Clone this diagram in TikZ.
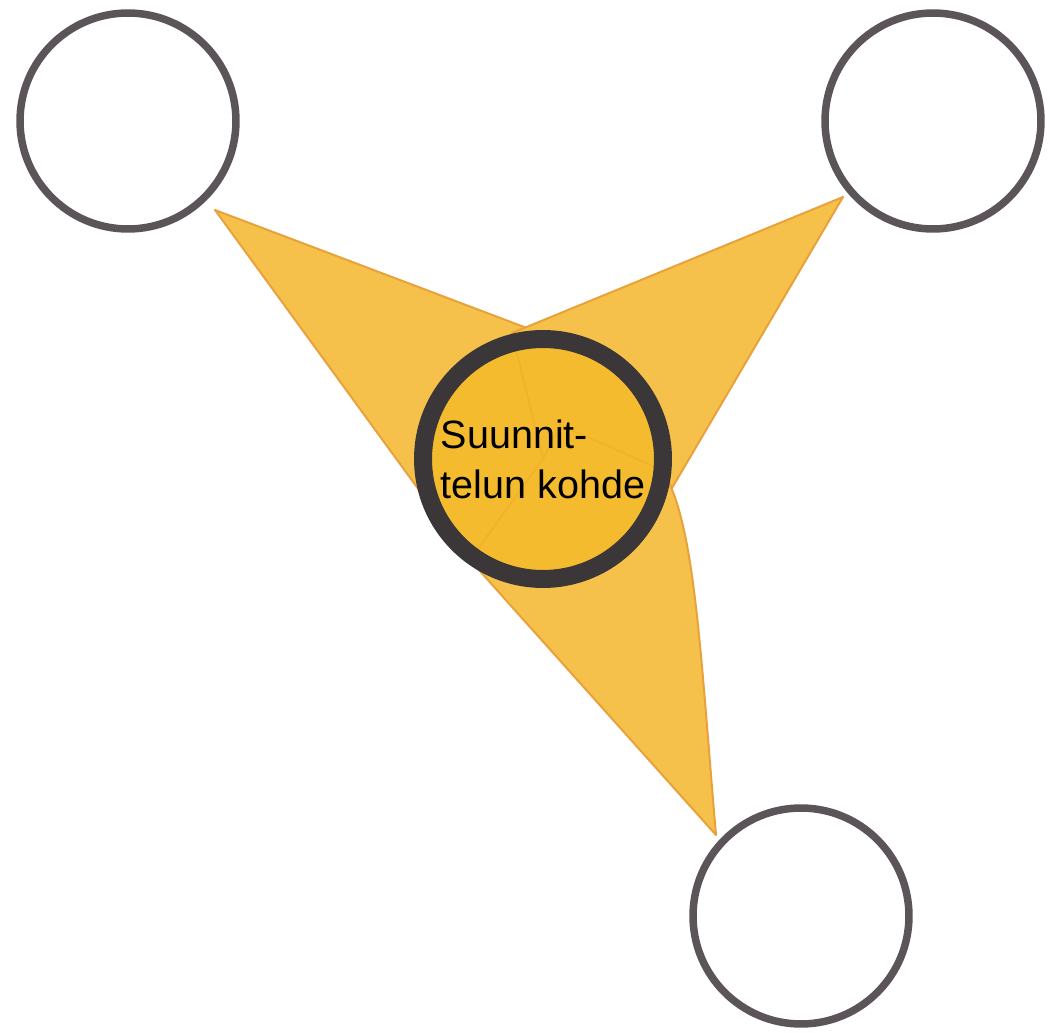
\documentclass[tikz,border=0pt]{standalone}
\usepackage{fontspec}
\setmainfont{Liberation Sans}
\usetikzlibrary{positioning}
\definecolor{bladefill}{HTML}{F6C14B}
\definecolor{bladeedge}{HTML}{E9A23B}
\definecolor{hubfill}{HTML}{F5B926}
\definecolor{ringgray}{HTML}{5B5459}
\definecolor{hubring}{HTML}{3B3637}
\tikzset{
  ring/.style={draw=ringgray, line width=0.15cm, circle, minimum size=4.32cm, inner sep=0pt},
  hub/.style={draw=hubring, line width=0.36cm, circle, minimum size=4.8cm, inner sep=0pt},
  blade/.style={fill=bladefill, draw=bladeedge, line width=0.04cm, line join=round},
}
\begin{document}
\begin{tikzpicture}[x=0.02cm, y=-0.02cm]
\useasboundingbox (0,0) rectangle (1051,1033);
%
% Blades: one from each outer circle into the middle
\filldraw[blade] (215,210) -- (532,330) -- (543,459) -- (470,560) -- cycle; % upper left
\filldraw[blade] (843,197) -- (672,488) -- (543,459) -- (512,333) -- cycle; % upper right
\filldraw[blade] (716,835) .. controls (700,650) and (695,520) .. (662,470) -- (560,425) -- (543,459) -- (470,560) -- cycle; % bottom
%
% Middle circle with its text
\node[hub, fill=hubfill, fill opacity=0.75, text opacity=1, align=left,
      font=\fontsize{22.5}{28.4}\selectfont] (hub) at (543,459) {Suunnit-\\telun kohde};
%
% Outer circles
\node[ring] (left) at (128,121) {};
\node[ring] (right) at (933,121) {};
\node[ring] (bottom) at (801,916) {};
%
\end{tikzpicture}
\end{document}
